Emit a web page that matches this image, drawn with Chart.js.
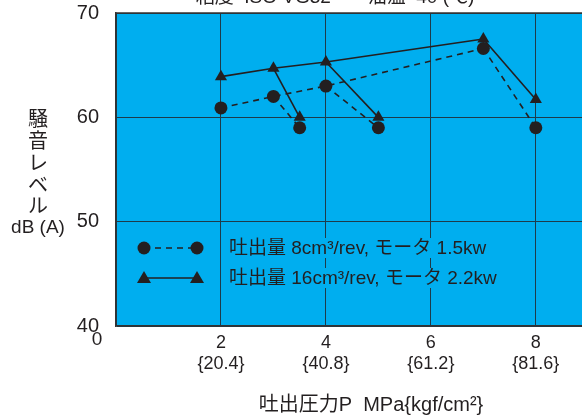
<!DOCTYPE html>
<html>
<head>
<meta charset="utf-8">
<script src="https://cdn.jsdelivr.net/npm/chart.js@4"></script>
<style>
  html, body { margin: 0; padding: 0; background: #fff; overflow: hidden; }
</style>
</head>
<body>
<canvas id="noiseChart" width="582" height="416"></canvas>
<script>
"use strict";

// pressure (MPa) on x, noise level dB(A) on y
const pressureTicks = [0, 2, 4, 6, 8];
const kgfLabels = ["", "{20.4}", "{40.8}", "{61.2}", "{81.6}"];
const noiseTicks = [40, 50, 60, 70];

// 8cm3/rev, motor 1.5kw (circles, dashed)
const smallMainX = [2, 3, 4, 7];
const smallMainY = [60.9, 62.0, 63.0, 66.6];
const smallDropX = [3.5, 5, 8];
const smallDropY = [59.0, 59.0, 59.0];

// 16cm3/rev, motor 2.2kw (triangles, solid)
const bigMainX = [2, 3, 4, 7];
const bigMainY = [63.9, 64.7, 65.3, 67.5];
const bigDropX = [3.5, 5, 8];
const bigDropY = [60.0, 60.0, 61.7];

const legendLabels = [
  "吐出量 8cm³/rev, モータ 1.5kw",
  "吐出量 16cm³/rev, モータ 2.2kw"
];
const titleText = "粘度  ISO VG32       油温  40 (℃)";

const BLUE = "#00aeef";
const INK = "#231f20";
const FONT = "'Liberation Sans', 'Noto Sans CJK JP', sans-serif";

function toPoints(xs, ys) {
  return xs.map((x, i) => ({ x: x, y: ys[i] }));
}

function buildDatasets(mainX, mainY, dropX, dropY, style, dash) {
  let sets = [];
  let r = style === "triangle" ? 7 : 6.5;
  sets.push({
    data: toPoints(mainX, mainY),
    showLine: true,
    borderColor: INK,
    backgroundColor: INK,
    borderWidth: 1.6,
    borderDash: dash,
    pointStyle: style,
    pointRadius: r,
    pointBorderWidth: 0
  });
  // each drop line starts at main point i+1
  for (let i = 0; i < dropX.length; i++) {
    sets.push({
      data: [
        { x: mainX[i + 1], y: mainY[i + 1] },
        { x: dropX[i], y: dropY[i] }
      ],
      showLine: true,
      borderColor: INK,
      backgroundColor: INK,
      borderWidth: 1.6,
      borderDash: dash,
      pointStyle: style,
      pointRadius: [0, r],
      pointBorderWidth: 0
    });
  }
  return sets;
}

const datasets = buildDatasets(smallMainX, smallMainY, smallDropX, smallDropY, "circle", [6, 5])
  .concat(buildDatasets(bigMainX, bigMainY, bigDropX, bigDropY, "triangle", []));

function noPadding(scale) {
  scale.paddingTop = 0;
  scale.paddingBottom = 0;
  scale.paddingLeft = 0;
  scale.paddingRight = 0;
}

const decorPlugin = {
  id: "decor",
  beforeDraw(chart) {
    const a = chart.chartArea;
    const ctx = chart.ctx;
    ctx.save();
    ctx.fillStyle = BLUE;
    ctx.fillRect(a.left, a.top, a.right - a.left, a.bottom - a.top);
    ctx.restore();
  },
  afterDraw(chart) {
    const a = chart.chartArea;
    const ctx = chart.ctx;
    const xs = chart.scales.x;
    ctx.save();

    // top border
    ctx.strokeStyle = "#333";
    ctx.lineWidth = 1.5;
    ctx.beginPath();
    ctx.moveTo(a.left, a.top);
    ctx.lineTo(a.right, a.top);
    ctx.stroke();

    // clipped title above the plot
    ctx.fillStyle = INK;
    ctx.font = "19px " + FONT;
    ctx.textAlign = "center";
    ctx.textBaseline = "alphabetic";
    ctx.fillText(titleText, 335, 3);

    // "0" of the x axis, set off to the left
    ctx.font = "19px " + FONT;
    ctx.textAlign = "center";
    ctx.textBaseline = "middle";
    ctx.fillText("0", xs.getPixelForValue(0) - 19, 340);

    // y axis title, stacked
    ctx.font = "20px " + FONT;
    const chars = ["騒", "音", "レ", "ベ", "ル"];
    const rowY = [120, 142, 164, 186, 207];
    chars.forEach((c, i) => ctx.fillText(c, 38, rowY[i]));
    ctx.font = "19px " + FONT;
    ctx.fillText("dB (A)", 38, 228);

    // x axis title
    ctx.font = "20px " + FONT;
    ctx.fillText("吐出圧力P  MPa{kgf/cm²}", 371, 405);

    // legend inside plot
    const lx1 = 144, lx2 = 197, tx = 229;
    const rows = [248, 278];
    ctx.font = "19px " + FONT;
    ctx.textAlign = "left";
    rows.forEach((y, i) => {
      const w = ctx.measureText(legendLabels[i]).width;
      ctx.fillStyle = BLUE;
      ctx.fillRect(tx - 2, y - 10, w + 4, 20);
      ctx.strokeStyle = INK;
      ctx.fillStyle = INK;
      ctx.lineWidth = 1.6;
      ctx.setLineDash(i === 0 ? [6, 5] : []);
      ctx.beginPath();
      ctx.moveTo(lx1, y);
      ctx.lineTo(lx2, y);
      ctx.stroke();
      ctx.setLineDash([]);
      [lx1, lx2].forEach(px => {
        ctx.beginPath();
        if (i === 0) {
          ctx.arc(px, y, 6.5, 0, Math.PI * 2);
        } else {
          ctx.moveTo(px, y - 7);
          ctx.lineTo(px + 7, y + 5);
          ctx.lineTo(px - 7, y + 5);
          ctx.closePath();
        }
        ctx.fill();
      });
      ctx.fillText(legendLabels[i], tx, y + 1);
    });

    ctx.restore();
  }
};

new Chart(document.getElementById("noiseChart"), {
  type: "scatter",
  data: { datasets: datasets },
  options: {
    responsive: false,
    animation: false,
    devicePixelRatio: 1,
    layout: { autoPadding: false, padding: { top: 13, right: 0, left: 0, bottom: 0 } },
    plugins: {
      legend: { display: false },
      tooltip: { enabled: false },
      title: { display: false }
    },
    scales: {
      x: {
        type: "linear",
        min: 0,
        max: 8.88,
        afterBuildTicks(scale) {
          scale.ticks = pressureTicks.map(v => ({ value: v }));
        },
        afterFit(scale) {
          scale.height = 90;
          noPadding(scale);
        },
        ticks: {
          color: INK,
          font: { family: FONT, size: 18 },
          padding: 6,
          maxRotation: 0,
          autoSkip: false,
          callback(value) {
            const i = pressureTicks.indexOf(value);
            if (i <= 0) return "";
            return [String(value), kgfLabels[i]];
          }
        },
        grid: { color: "#1d3b4a", lineWidth: 1, drawTicks: false },
        border: { color: "#333", width: 1.5 }
      },
      y: {
        min: 40,
        max: 70,
        afterBuildTicks(scale) {
          scale.ticks = noiseTicks.map(v => ({ value: v }));
        },
        afterFit(scale) {
          scale.width = 116;
          noPadding(scale);
        },
        ticks: {
          color: INK,
          font: { family: FONT, size: 20 },
          padding: 17
        },
        grid: { color: "#1d3b4a", lineWidth: 1, drawTicks: false },
        border: { color: "#333", width: 1.5 }
      }
    }
  },
  plugins: [decorPlugin]
});
</script>
</body>
</html>
